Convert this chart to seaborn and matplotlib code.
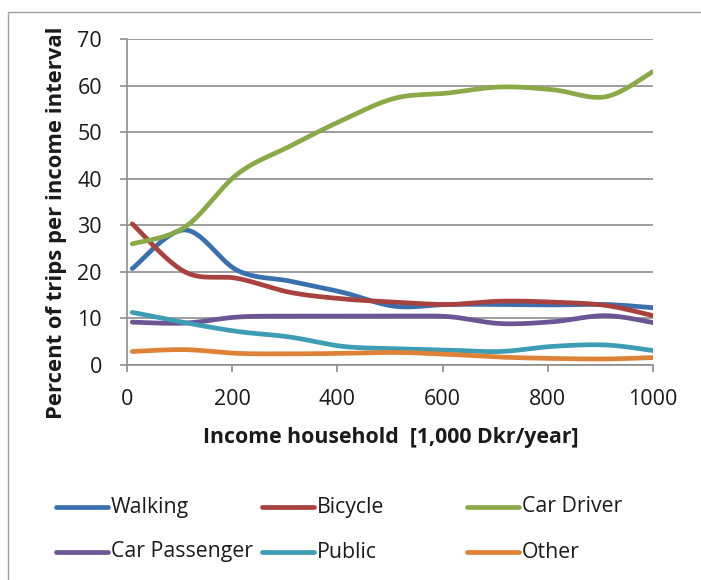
import numpy as np
import pandas as pd
import seaborn as sns
import matplotlib
matplotlib.use("Agg")
import matplotlib.pyplot as plt
from matplotlib.lines import Line2D
from matplotlib.patches import Rectangle

# Income interval midpoints (1,000 Dkr/year)
income = [10, 110, 210, 310, 410, 510, 610, 710, 810, 910, 1000]

# Percent of trips per income interval, by travel mode
walking = [20.7, 29.0, 20.3, 18.0, 15.6, 12.6, 13.0, 13.0, 12.9, 13.0, 12.3]
bicycle = [30.3, 20.0, 18.6, 15.6, 14.2, 13.5, 13.0, 13.7, 13.5, 12.8, 10.6]
car_driver = [26.0, 29.6, 41.0, 47.0, 52.6, 57.3, 58.4, 59.7, 59.1, 57.6, 63.0]
car_passenger = [9.2, 9.0, 10.3, 10.5, 10.5, 10.5, 10.4, 8.9, 9.3, 10.6, 9.1]
public = [11.3, 9.1, 7.2, 6.0, 4.0, 3.5, 3.2, 2.9, 4.0, 4.3, 3.1]
other = [2.9, 3.3, 2.5, 2.4, 2.5, 2.7, 2.3, 1.7, 1.4, 1.3, 1.6]

modes = ["Walking", "Bicycle", "Car Driver", "Car Passenger", "Public", "Other"]
series = [walking, bicycle, car_driver, car_passenger, public, other]
colors = ["#3A70AD", "#A9423F", "#8AAA48", "#6C5594", "#3C9DB5", "#DF8235"]

y_ticks = [0, 10, 20, 30, 40, 50, 60, 70]
x_ticks = [0, 200, 400, 600, 800, 1000]


def smooth(xs, ys, steps=30):
    """Cubic Bezier smoothing through every point (spreadsheet-style smoothed line)."""
    p = np.column_stack([xs, ys]).astype(float)
    n = len(p)
    out = []
    for i in range(n - 1):
        p0 = p[i - 1] if i > 0 else p[i]
        p1, p2 = p[i], p[i + 1]
        p3 = p[i + 2] if i + 2 < n else p[i + 1]
        c1 = p1 + (p2 - p0) / 6.0
        c2 = p2 - (p3 - p1) / 6.0
        t = np.linspace(0, 1, steps, endpoint=(i == n - 2))[:, None]
        seg = ((1 - t) ** 3) * p1 + 3 * ((1 - t) ** 2) * t * c1 + 3 * (1 - t) * t ** 2 * c2 + t ** 3 * p2
        out.append(seg)
    out = np.vstack(out)
    return out[:, 0], out[:, 1]


frames = []
for name, vals in zip(modes, series):
    sx, sy = smooth(income, vals)
    frames.append(pd.DataFrame({"Income": sx, "Percent": sy, "Mode": name,
                                "step": np.arange(len(sx))}))
df = pd.concat(frames, ignore_index=True)

sns.set_theme(style="white")
plt.rcParams["font.family"] = ["Open Sans", "DejaVu Sans"]

W, H = 701, 580
fig = plt.figure(figsize=(W / 100, H / 100), dpi=100)
ax = fig.add_axes([127 / W, 1 - 365 / H, (653 - 127) / W, (365 - 39) / H])

sns.lineplot(data=df, x="Income", y="Percent", hue="Mode", hue_order=modes,
             palette=colors, sort=False, estimator=None, units="Mode",
             linewidth=3.4, legend=False, ax=ax)
for ln in ax.get_lines():
    ln.set_solid_capstyle("round")
    ln.set_solid_joinstyle("round")

grid_color = "#8E8E8E"
ax.set_xlim(0, 1000)
ax.set_ylim(0, 70)
ax.set_yticks(y_ticks)
ax.set_xticks(x_ticks)
ax.yaxis.grid(True, color=grid_color, linewidth=1.2)
ax.set_axisbelow(True)
for side in ["top", "right"]:
    ax.spines[side].set_visible(False)
for side in ["left", "bottom"]:
    ax.spines[side].set_color(grid_color)
    ax.spines[side].set_linewidth(1.2)
ax.tick_params(axis="both", which="major", direction="out", length=5,
               width=1.2, color=grid_color, labelsize=15.5, labelcolor="#1A1A1A",
               left=True, bottom=True)
ax.tick_params(axis="y", pad=13)
ax.tick_params(axis="x", pad=12)
ax.set_xlabel("")
ax.set_ylabel("")

fig.text(391 / W, 1 - 438 / H, "Income household  [1,000 Dkr/year]",
         ha="center", va="center", fontsize=15.3, fontweight="bold", color="#1A1A1A")
fig.text(57 / W, 1 - 223 / H, "Percent of trips per income interval",
         ha="center", va="center", rotation=90, fontsize=15.8, fontweight="bold",
         color="#1A1A1A")

# Legend: two rows of three entries with equal column widths
col_x = [56, 262, 467]
row_y = [507, 552]
for k, (name, col) in enumerate(zip(modes, colors)):
    r, c = divmod(k, 3)
    x0 = col_x[c]
    y = 1 - row_y[r] / H
    fig.add_artist(Line2D([x0 / W, (x0 + 52) / W], [y, y], color=col,
                          linewidth=3.4, solid_capstyle="round"))
    fig.text((x0 + 55) / W, y, name, ha="left", va="center", fontsize=15.3,
             color="#1A1A1A")

# Outer chart frame
fig.add_artist(Rectangle((8 / W, -0.1), 1.2, 1 - 12 / H + 0.1, transform=fig.transFigure,
                         fill=False, edgecolor="#A0A0A0", linewidth=1.0))

fig.savefig("out.png", dpi=100)
